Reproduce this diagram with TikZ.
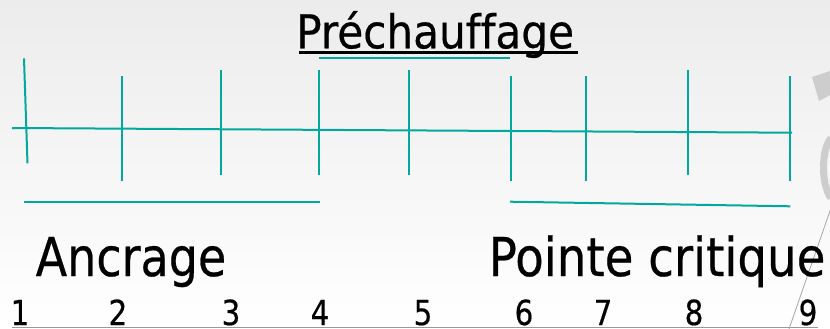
\documentclass[tikz,border=0pt]{standalone}
\usepackage{fontspec}
\setmainfont{DejaVu Sans}[Ligatures=NoCommon,FakeBold=0.5]
\definecolor{tealline}{RGB}{0,168,158}
\definecolor{bgtop}{RGB}{236,236,236}
\definecolor{deco}{RGB}{205,205,205}
\begin{document}
\begin{tikzpicture}[x=1pt,y=-1pt,
  tl/.style={draw=tealline,line width=2pt},
  lbl/.style={inner sep=0pt,anchor=base west,text=black},
  num/.style={inner sep=0pt,anchor=base,text=black,font=\fontsize{34.5}{36}\selectfont}]
\useasboundingbox (0,0) rectangle (830,329);
\shade[top color=bgtop,bottom color=white] (0,0) rectangle (830,329);
% decoration on the right
\fill[deco] (812,77) -- (830,71) -- (830,95) -- (819,101) -- cycle;
\draw[deco,line width=7pt] (831,138) .. controls (821,150) and (821,185) .. (831,198);
\draw[gray!70,line width=0.8pt] (831,208) -- (789,329);
% title
\node[lbl] (pre) at (296,48.3) {\fontsize{46.6}{50}\selectfont\scalebox{0.905}[1]{Préchauffage}};
\coordinate (ul1) at (299,52.5); \coordinate (ul2) at (578,52.5);
\draw[line width=2.5pt] (ul1) -- (ul2);
\coordinate (p1) at (319,58.5); \coordinate (p2) at (510,58.5);
\draw[tl] (p1) -- (p2);
% main axis
\coordinate (h1) at (12,128); \coordinate (h2) at (792,132.7);
\draw[tl] (h1) -- (h2);
\foreach \i/\x/\ya/\yb in {2/122.3/76/180.7,3/220.8/70.3/175.3,4/319.2/70.3/175.3,5/408.7/70.3/175.3,6/510.9/76/180.7,7/585.5/76/180.7,8/688.2/70.3/175.3,9/790.4/76/180.7}{
  \coordinate (t\i) at (\x,\ya); \coordinate (b\i) at (\x,\yb);
  \draw[tl] (t\i) -- (b\i);
}
\coordinate (t1) at (24,58.3); \coordinate (b1) at (27.5,163.3);
\draw[tl] (t1) -- (b1);
% brackets
\coordinate (a1) at (24,202.3); \coordinate (a2) at (320.3,202.3);
\draw[tl] (a1) -- (a2);
\coordinate (c1) at (510,201.7); \coordinate (c2) at (790.4,206.3);
\draw[tl] (c1) -- (c2);
% labels
\node[lbl] (anc) at (35.5,276) {\fontsize{53.5}{56}\selectfont\scalebox{0.86}[1]{Ancrage}};
\node[lbl] (pc) at (488.5,276) {\fontsize{53.5}{56}\selectfont\scalebox{0.873}[1]{Pointe critique}};
% numbers
\foreach \n/\x in {1/20,2/118,3/231,4/320,5/423,6/524,7/603,8/694,9/808}{
  \node[num] (n\n) at (\x,325) {\scalebox{0.85}[1]{\n}};
}
\coordinate (g1) at (11.6,327.8); \coordinate (g2) at (818,327.8);
\draw[gray!80,line width=1pt] (g1) -- (g2);
\end{tikzpicture}
\end{document}
